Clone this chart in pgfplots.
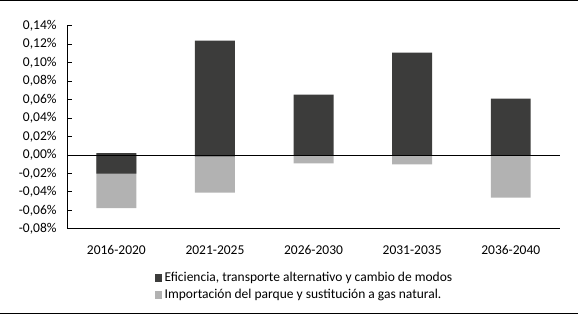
\documentclass[border=0pt]{standalone}
\usepackage{fontspec}
\setmainfont{Carlito}
\usepackage{pgfplots}
\pgfplotsset{compat=1.18}
\definecolor{darkbar}{HTML}{3C3C3B}
\definecolor{lightbar}{HTML}{B2B2B2}
\begin{document}
\begin{tikzpicture}[x=1pt,y=1pt]
\useasboundingbox (0,0) rectangle (578,315);
\draw[black, line width=1.2pt] (0,314.3) -- (578,314.3);
\draw[black, line width=1.2pt] (0,1.6) -- (578,1.6);
\begin{axis}[
  at={(68,93.5)}, anchor=south west,
  scale only axis, width=493pt, height=203pt,
  xmin=-0.5, xmax=4.5, ymin=-0.08, ymax=0.14,
  axis x line*=bottom, axis y line*=left,
  axis line style={line width=0.8pt},
  xtick={0,1,2,3,4},
  xticklabels={2016-2020,2021-2025,2026-2030,2031-2035,2036-2040},
  x tick style={draw=none},
  extra x ticks={4.5}, extra x tick labels={},
  extra x tick style={tick style={draw=black, line width=0.8pt}, major tick length=6pt, tick align=center},
  ytick distance=0.02,
  y tick style={black, line width=0.8pt},
  major tick length=5pt, tick align=inside,
  yticklabel={\pgfmathprintnumber[fixed, fixed zerofill, precision=2, use comma, assume math mode=true]{\tick}\%},
  every tick label/.append style={font=\fontsize{13.5}{15}\selectfont, black},
  yticklabel style={xshift=-7pt},
  xticklabel style={yshift=-8.5pt},
  ybar, bar shift=0pt, bar width=0.405,
  legend style={at={(axis description cs:0.171,-0.195)}, anchor=north west, draw=none, fill=none,
    font=\fontsize{13.5}{15}\selectfont, row sep=2pt, cells={anchor=west}, nodes={inner xsep=2.6pt}},
  legend image code/.code={\fill[#1] (0pt,-3.7pt) rectangle (7.5pt,3.7pt);},
]
\addplot[fill=lightbar, draw=none, forget plot] coordinates {(0,-0.0578) (1,-0.0410) (2,-0.0092) (3,-0.0103) (4,-0.0464)};
\addplot[fill=darkbar, draw=none, forget plot] coordinates {(0,-0.0204) (1,-0.0015)};
\addplot[fill=darkbar, draw=none] coordinates {(0,0.0020) (1,0.1238) (2,0.0653) (3,0.1108) (4,0.0609)};
\addlegendentry{Eficiencia, transporte alternativo y cambio de modos}
\addlegendimage{fill=lightbar, draw=none}
\addlegendentry{Importación del parque y sustitución a gas natural.}
\addplot[sharp plot, black, line width=0.8pt, forget plot] coordinates {(-0.5,0) (4.5,0)};
\end{axis}
\end{tikzpicture}
\end{document}
